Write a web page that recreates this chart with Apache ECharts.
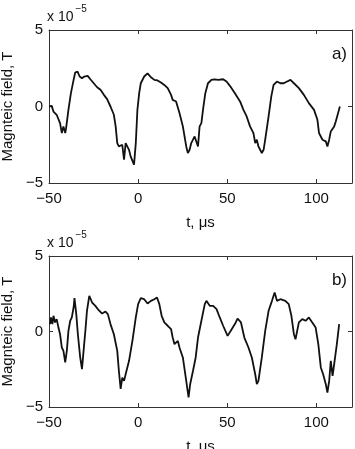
<!DOCTYPE html>
<html>
<head>
<meta charset="utf-8">
<script src="https://cdn.jsdelivr.net/npm/echarts@6/dist/echarts.min.js"></script>
<style>
  html, body { margin: 0; padding: 0; background: #fff; }
  #chart { width: 355px; height: 449px; }
</style>
</head>
<body>
<div id="chart"></div>
<script>
// time axis, microseconds
var tA = [-50.0, -48.5, -47.5, -46.6, -45.7, -44.7, -43.8, -42.8, -41.9, -40.9, -40.4, -39.1, -37.7, -36.2, -35.3, -34.0, -32.8, -31.5, -30.2, -28.3,
  -26.8, -24.9, -23.0, -21.1, -19.2, -17.4, -15.5, -13.6, -12.6, -11.7, -10.8, -9.8, -8.9, -7.9, -7.0, -6.0, -5.1, -4.2, -3.2, -2.3,
  -1.3, -0.4, 0.6, 1.5, 3.4, 5.3, 7.2, 9.1, 10.9, 12.8, 14.7, 16.6, 18.5, 19.4, 20.4, 21.3, 23.2, 25.1, 27.0, 27.9,
  28.9, 29.8, 30.8, 31.7, 32.6, 33.6, 34.5, 35.5, 36.4, 37.7, 39.2, 41.1, 43.0, 44.9, 47.7, 49.6, 51.5, 54.3, 57.2, 59.1,
  60.9, 62.8, 64.7, 65.7, 66.6, 67.5, 69.4, 70.4, 71.3, 73.2, 74.7, 76.0, 77.9, 79.8, 81.7, 83.6, 85.5, 87.4, 90.2, 93.0,
  95.8, 98.7, 100.6, 101.5, 102.5, 103.4, 104.3, 105.3, 106.2, 107.2, 108.1, 109.1, 110.0, 110.9, 111.9, 113.2]
// magnetic field, x 1e-5 T
var bA = [0.00, 0.04, -0.33, -0.22, -0.54, -0.43, -1.09, -1.74, -1.30, -1.74, -1.41, -0.22, 0.87, 1.74, 2.22, 2.28, 1.96, 1.85, 1.96, 2.00,
  1.78, 1.52, 1.26, 1.09, 0.76, 0.48, 0.00, -0.54, -1.30, -2.39, -2.61, -2.72, -2.50, -3.48, -2.39, -2.28, -2.83, -3.26, -3.15, -3.80,
  -2.39, -0.22, 0.87, 1.52, 1.96, 2.17, 1.91, 1.74, 1.70, 1.57, 1.41, 1.20, 0.76, 0.43, 0.54, 0.33, -0.43, -1.30, -2.61, -3.04,
  -2.83, -2.39, -2.17, -1.96, -2.07, -2.61, -1.30, -1.09, -0.22, 0.87, 1.52, 1.74, 1.78, 1.74, 1.78, 1.63, 1.35, 0.87, 0.33, -0.22,
  -0.65, -1.30, -1.74, -2.39, -2.17, -2.61, -3.04, -2.83, -2.17, -0.65, 0.65, 1.41, 1.63, 1.52, 1.52, 1.63, 1.74, 1.52, 1.20, 0.76,
  0.22, -0.22, -0.87, -1.74, -1.96, -2.17, -2.07, -2.28, -2.61, -2.17, -1.63, -1.74, -1.30, -0.98, -0.87, 0.00]

var tB = [-49.4, -48.9, -48.1, -47.5, -46.6, -45.7, -44.7, -43.8, -42.8, -41.9, -40.9, -40.0, -39.1, -38.1, -37.2, -36.2, -35.7, -34.7, -33.8, -32.5,
  -31.5, -30.6, -29.6, -28.7, -27.4, -25.8, -24.0, -22.1, -20.2, -18.3, -17.0, -15.5, -13.6, -11.7, -10.8, -9.8, -8.9, -7.9, -7.0, -5.1,
  -3.2, -1.3, 0.0, 1.5, 3.4, 5.3, 7.2, 9.1, 10.6, 11.9, 13.2, 14.7, 16.6, 18.5, 19.4, 20.4, 21.3, 22.3, 23.2, 25.1,
  27.0, 28.3, 29.2, 30.8, 32.3, 33.6, 35.5, 37.4, 38.3, 40.2, 42.1, 44.0, 45.8, 47.7, 50.2, 52.5, 54.3, 55.8, 57.7, 59.6,
  61.9, 63.8, 65.7, 66.6, 67.5, 69.4, 71.3, 73.2, 75.1, 76.6, 77.9, 79.8, 82.6, 84.5, 86.0, 87.4, 88.3, 90.2, 92.1, 94.0,
  95.8, 97.7, 99.6, 101.1, 102.5, 103.8, 105.3, 106.2, 107.2, 108.1, 109.1, 110.0, 111.5, 112.8]
var bB = [0.49, 0.93, 0.49, 1.04, 0.60, 0.82, 0.26, -0.18, -1.06, -1.28, -2.05, -1.28, 0.04, 0.71, 0.93, 1.59, 2.21, 1.15, -0.18, -1.72,
  -2.49, -1.28, 0.04, 1.37, 2.36, 1.92, 1.70, 1.41, 1.19, 1.32, 1.15, 0.49, -0.18, -1.28, -2.60, -3.80, -3.05, -3.27, -2.83, -1.94,
  -0.62, 0.93, 1.81, 2.21, 2.14, 1.85, 2.03, 2.14, 2.25, 1.81, 1.04, 0.60, 0.38, 0.15, -0.40, -0.84, -0.95, -0.62, -1.06, -1.72,
  -3.27, -4.37, -3.49, -2.60, -1.72, -0.40, 0.71, 1.81, 2.03, 1.70, 1.70, 1.48, 0.93, 0.38, -0.29, 0.15, 0.49, 0.86, 0.60, -0.40,
  -1.06, -1.72, -2.83, -3.49, -3.27, -1.72, 0.04, 1.37, 2.03, 2.58, 2.03, 2.14, 2.03, 1.81, 1.04, -0.18, -0.51, 0.60, 0.82, 0.71,
  0.93, 0.60, 0.26, -0.84, -2.38, -2.83, -3.49, -4.04, -3.27, -1.94, -2.94, -2.16, -0.84, 0.49]

var xTicks = { min: -50, max: 120, interval: 50 }
var yTicks = { min: -5, max: 5, interval: 5 }
var panelTags = ['a)', 'b)']

var font = 'Liberation Sans, Arial, Helvetica, sans-serif'
var axisColor = '#333'

function pairs(t, b) {
  return t.map(function(v, i) { return [v, b[i]] })
}

function minus(v) {
  return v < 0 ? '\u2212' + Math.abs(v) : String(v)
}

function xAx(grid, pos, labels) {
  return {
    type: 'value', gridIndex: grid, position: pos,
    min: xTicks.min, max: xTicks.max, interval: xTicks.interval,
    axisLine: { show: true, onZero: false, lineStyle: { color: axisColor, width: 1 } },
    axisTick: { show: true, inside: true, length: 4, lineStyle: { color: axisColor } },
    axisLabel: { show: labels, showMaxLabel: false, fontFamily: font, fontSize: 15, color: '#111', margin: 8, formatter: minus },
    splitLine: { show: false },
    name: labels ? 't, \u03bcs' : '', nameLocation: 'middle', nameGap: 32,
    nameTextStyle: { fontFamily: font, fontSize: 15, color: '#111' }
  }
}

function yAx(grid, pos, labels) {
  return {
    type: 'value', gridIndex: grid, position: pos,
    min: yTicks.min, max: yTicks.max, interval: yTicks.interval,
    axisLine: { show: true, onZero: false, lineStyle: { color: axisColor, width: 1 } },
    axisTick: { show: true, inside: true, length: 4, lineStyle: { color: axisColor } },
    axisLabel: { show: labels, fontFamily: font, fontSize: 15, color: '#111', margin: 6, formatter: minus },
    splitLine: { show: false },
    name: labels ? 'Magnteic field, T' : '', nameLocation: 'middle', nameGap: 31,
    nameTextStyle: { fontFamily: font, fontSize: 15, color: '#111' }
  }
}

function multiplier(top) {
  return { type: 'text', left: 47, top: top, style: { text: '{n|x 10}{s|\u22125}', rich: {
    n: { fontFamily: font, fontSize: 14, fill: '#111', padding: [6, 0, 0, 0] },
    s: { fontFamily: font, fontSize: 10, fill: '#111', verticalAlign: 'top', padding: [0, 0, 0, 2] } } } }
}

var chart = echarts.init(document.getElementById('chart'))
chart.setOption({
  animation: false,
  backgroundColor: '#fff',
  grid: [
    { left: 49, top: 30, width: 303, height: 153, containLabel: false, outerBoundsMode: 'none' },
    { left: 49, top: 256, width: 303, height: 151, containLabel: false, outerBoundsMode: 'none' }
  ],
  xAxis: [
    xAx(0, 'bottom', true), xAx(0, 'top', false),
    xAx(1, 'bottom', true), xAx(1, 'top', false)
  ],
  yAxis: [
    yAx(0, 'left', true), yAx(0, 'right', false),
    yAx(1, 'left', true), yAx(1, 'right', false)
  ],
  series: [
    {
      type: 'line', xAxisIndex: 0, yAxisIndex: 0, data: pairs(tA, bA),
      showSymbol: false, lineStyle: { color: '#111', width: 1.8 }
    },
    {
      type: 'line', xAxisIndex: 2, yAxisIndex: 2, data: pairs(tB, bB),
      showSymbol: false, lineStyle: { color: '#111', width: 1.8 }
    }
  ],
  graphic: [
    multiplier(4),
    multiplier(230),
    { type: 'text', right: 8, top: 46, style: { text: panelTags[0], fontFamily: font, fontSize: 17, fill: '#111' } },
    { type: 'text', right: 8, top: 272, style: { text: panelTags[1], fontFamily: font, fontSize: 17, fill: '#111' } }
  ]
})
</script>
</body>
</html>
